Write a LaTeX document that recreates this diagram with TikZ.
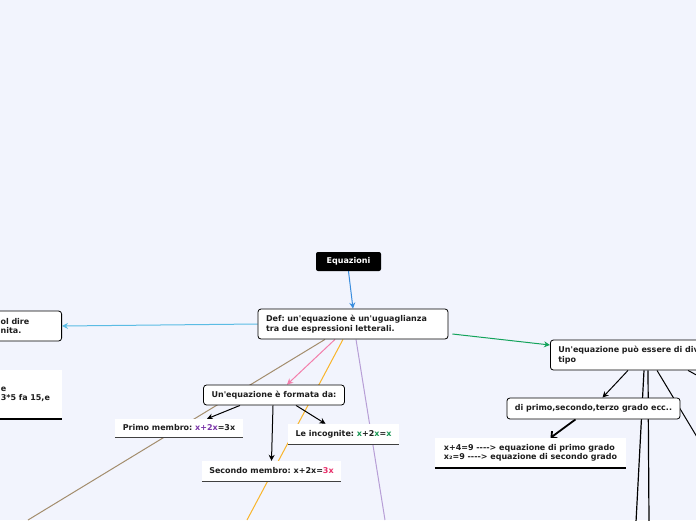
\documentclass[tikz,border=0pt]{standalone}
\usepackage{fontspec}
\setmainfont{DejaVu Sans}[Ligatures=TeXOff]
\frenchspacing
\usetikzlibrary{arrows.meta,backgrounds}
\definecolor{bgpage}{HTML}{F2F4FD}
\definecolor{txtdark}{HTML}{1E1E1E}
\definecolor{blueA}{HTML}{3A8DDE}
\definecolor{blueB}{HTML}{5BBCE4}
\definecolor{pinkA}{HTML}{F37EAB}
\definecolor{brownA}{HTML}{A38D6D}
\definecolor{orangeA}{HTML}{F9B52B}
\definecolor{lilacA}{HTML}{B79ED6}
\definecolor{greenA}{HTML}{13A35B}
\definecolor{violetx}{HTML}{7A35A8}
\definecolor{greenx}{HTML}{179652}
\definecolor{redx}{HTML}{E8306A}
\begin{document}
\begin{tikzpicture}[x=1pt,y=-1pt,
  every node/.style={font=\fontsize{8}{9.6}\selectfont\bfseries, text=txtdark},
  root/.style={fill=black, text=white, rounded corners=2pt, minimum width=65pt, minimum height=19pt, inner sep=0pt},
  topic/.style={fill=white, draw=black, line width=0.8pt, rounded corners=3pt, align=left, inner xsep=8pt, inner ysep=0pt},
  leaf/.style={fill=white, inner sep=0pt},
  link/.style={line width=1pt},
  tip/.style={-{Stealth[length=6pt,width=6pt]}}]
\clip (0,0) rectangle (696,520);
% nodes
\node[root] (root) at (348.5,261.5) {Equazioni};
\node[topic, text width=174pt, minimum height=30pt] (def) at (353,324) {Def: un'equazione è un'uguaglianza\\tra due espressioni letterali.};
\node[topic, text width=53pt, minimum height=30pt, anchor=east] (vuol) at (62,326) {ol dire\\nita.};
\node[leaf, text width=53pt, minimum height=49pt, inner xsep=8pt, align=left, anchor=east] (esfrag) at (62,394.5) {e\\3*5 fa 15,e};
\node[topic, text width=170pt, minimum height=30pt, anchor=west] (puo) at (550,355) {Un'equazione può essere di diverso\\tipo};
\node[topic, minimum width=140pt, minimum height=20pt] (form) at (274,395) {Un'equazione è formata da:};
\node[leaf, minimum width=128pt, minimum height=18pt] (primo) at (179,428) {Primo membro: \textcolor{violetx}{x+2x}=3x};
\node[leaf, minimum width=111pt, minimum height=20pt] (incogn) at (343.5,434) {Le incognite: \textcolor{greenx}{x}+2\textcolor{greenx}{x}=\textcolor{greenx}{x}};
\node[leaf, minimum width=139pt, minimum height=20pt] (secondo) at (271.5,471) {Secondo membro: x+2x=\textcolor{redx}{3x}};
\node[topic, minimum width=171pt, minimum height=21pt] (grado) at (593.5,408.5) {di primo,secondo,terzo grado ecc..};
\node[leaf, minimum width=191pt, minimum height=30pt, align=left, inner xsep=8pt] (esempi) at (530.5,453) {x+4=9 {-}{-}{-}{-}> equazione di primo grado\\x₂=9 {-}{-}{-}{-}> equazione di secondo grado};
\foreach \n in {primo,incogn,secondo} \draw[line width=0.8pt, draw=black!75] (\n.south west) -- (\n.south east);
\foreach \n in {esempi,esfrag} \draw[line width=2pt] (\n.south west) -- (\n.south east);
% free ends
\coordinate (brownend) at (28,520);
\coordinate (orangeend) at (247,520);
\coordinate (lilacend) at (385,520);
\coordinate (downA) at (636,522);
\coordinate (downB) at (649,522);
\coordinate (rightA) at (697,437);
\coordinate (rightB) at (700,377);
% connectors
\begin{scope}[on background layer]
\fill[bgpage] (0,0) rectangle (696,520);
\draw[link, tip, draw=blueA] (root.south) -- (def.north);
\draw[link, tip, draw=blueB] (def.west) -- (vuol.east);
\draw[link, tip, draw=pinkA] ([xshift=-18pt]def.south) -- ([xshift=13pt]form.north);
\draw[link, draw=brownA] ([xshift=-28pt]def.south) -- (brownend);
\draw[link, draw=orangeA] ([xshift=-10pt]def.south) -- (orangeend);
\draw[link, draw=lilacA] ([xshift=3pt]def.south) -- (lilacend);
\draw[link, tip, draw=greenA] ([shift={(4,10)}]def.east) -- ([shift={(0,-10)}]puo.west);
\draw[link, tip] ([xshift=-34pt]form.south) -- ([xshift=28pt]primo.north);
\draw[link, tip] ([xshift=-1pt]form.south) -- (secondo.north);
\draw[link, tip] ([xshift=22pt]form.south) -- ([xshift=-18pt]incogn.north);
\draw[link, tip] ([shift={(78,0)}]puo.south west) -- ([xshift=9pt]grado.north);
\draw[line width=1.8pt, -{Straight Barb[length=4pt,width=9pt]}] ([xshift=-18pt]grado.south) -- ([xshift=20pt]esempi.north);
\draw[line width=1.2pt] ([shift={(94,0)}]puo.south west) -- (downA);
\draw[line width=1.2pt] ([shift={(98,0)}]puo.south west) -- (downB);
\draw[link] ([shift={(107,0)}]puo.south west) -- (rightA);
\draw[link] ([shift={(138,0)}]puo.south west) -- (rightB);
\end{scope}
\end{tikzpicture}
\end{document}
